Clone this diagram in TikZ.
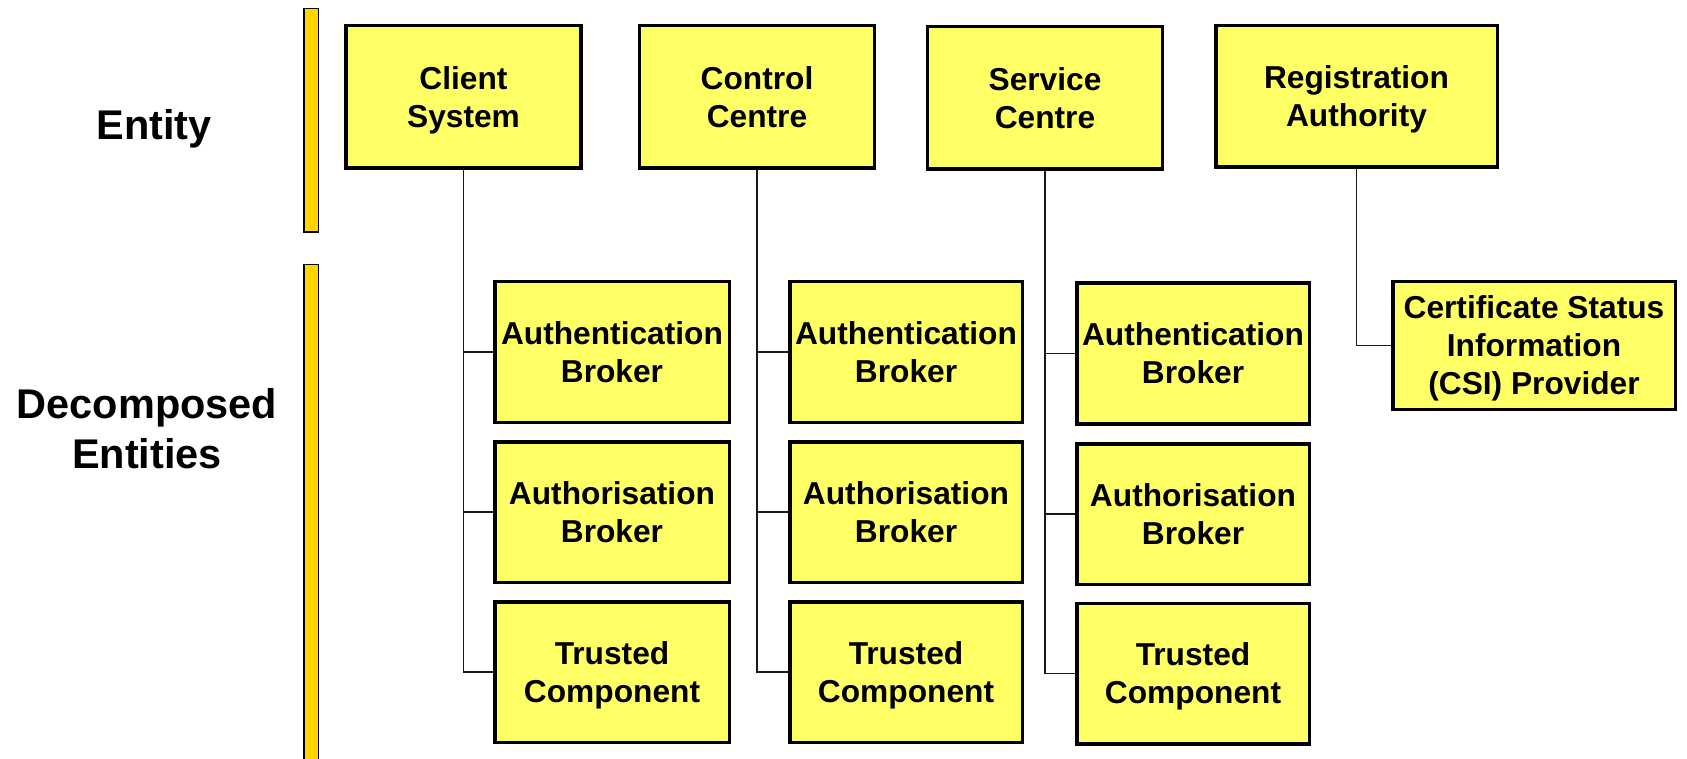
\documentclass[tikz,border=0pt]{standalone}
\usepackage{fontspec}
\setmainfont{Liberation Sans}
\definecolor{boxyellow}{RGB}{255,255,102}
\definecolor{bargold}{RGB}{255,212,0}
% drop the depth of a line so the caps sit centred in the box
\newcommand{\nd}[1]{\raisebox{0pt}[\height][0pt]{#1}}
\begin{document}
\begin{tikzpicture}[x=1pt,y=-1pt,
  box/.style={draw=black, line width=3.5pt, fill=boxyellow, inner sep=0pt,
    align=center, font=\fontsize{31.7}{38}\selectfont\bfseries},
  topbox/.style={box, minimum width=235pt, minimum height=142.5pt},
  subbox/.style={box, minimum width=233.5pt, minimum height=140.5pt},
  link/.style={draw=black!90, line width=1.9pt},
  bar/.style={draw=black, line width=1.5pt, fill=bargold, inner sep=0pt,
    minimum width=14.5pt},
  side/.style={align=center, font=\fontsize{41.5}{50}\selectfont\bfseries}]

\useasboundingbox (0,0) rectangle (1687,759);
\begin{scope}
\clip (0,0) rectangle (1687,759);

% row labels and their bars
\node[side] (entlabel) at (154,124) {\nd{Entity}};
\node[side] (declabel) at (147,428) {\nd{Decomposed}\\\nd{Entities}};
\node[bar, minimum height=223.5pt] (entbar) at (311,120.5) {};
\node[bar, minimum height=504.5pt] (decbar) at (311,517) {};

% entities
\node[topbox] (cs) at (463.5,97) {\nd{Client}\\\nd{System}};
\node[topbox] (cc) at (757,97) {\nd{Control}\\\nd{Centre}};
\node[topbox] (sc) at (1045,98) {\nd{Service}\\\nd{Centre}};
\node[topbox, minimum width=281.5pt, minimum height=141.5pt] (ra) at (1356.5,96.5) {\nd{Registration}\\\nd{Authority}};

% decomposed entities: client system
\node[subbox, minimum width=234.5pt] (cs1) at (612,352) {\nd{Authentication}\\\nd{Broker}};
\node[subbox, minimum width=234.5pt] (cs2) at (612,512) {\nd{Authorisation}\\\nd{Broker}};
\node[subbox, minimum width=234.5pt] (cs3) at (612,672) {\nd{Trusted}\\\nd{Component}};

% decomposed entities: control centre
\node[subbox, minimum width=232.5pt] (cc1) at (906,352) {\nd{Authentication}\\\nd{Broker}};
\node[subbox, minimum width=232.5pt] (cc2) at (906,512) {\nd{Authorisation}\\\nd{Broker}};
\node[subbox, minimum width=232.5pt] (cc3) at (906,672) {\nd{Trusted}\\\nd{Component}};

% decomposed entities: service centre
\node[subbox, minimum width=232.5pt] (sc1) at (1193,353.5) {\nd{Authentication}\\\nd{Broker}};
\node[subbox, minimum width=232.5pt] (sc2) at (1193,514) {\nd{Authorisation}\\\nd{Broker}};
\node[subbox, minimum width=232.5pt] (sc3) at (1193,673.5) {\nd{Trusted}\\\nd{Component}};

% decomposed entity: registration authority
\node[box, minimum width=282.5pt, minimum height=127.5pt] (csi) at (1534,345.5)
  {\nd{Certificate Status}\\\nd{Information}\\\nd{(CSI) Provider}};

% tree connectors
\foreach \p in {cs,cc,sc}{
  \foreach \k in {1,2,3}{
    \draw[link] (\p.south) |- (\p\k.west);
  }
}
\draw[link] (ra.south) |- (csi.west);
\end{scope}
\end{tikzpicture}
\end{document}
